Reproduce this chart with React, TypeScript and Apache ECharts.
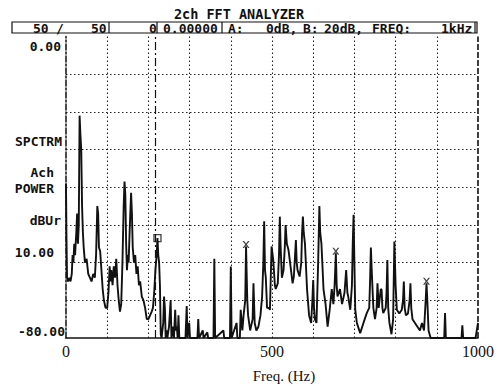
import React, { useEffect, useRef } from "react";
import * as echarts from "echarts";

// Spectrum trace (Hz, dBUr)
const freqHz = [
  0, 1, 2.5, 5, 8, 11, 14, 16, 18, 20, 22, 25, 27, 29, 31, 33, 35, 37, 39, 41, 43, 46, 50, 54, 58, 62, 66, 70, 73, 76, 78, 80, 83, 86, 89, 92, 96, 100,
  103, 106, 108, 110, 113, 116, 119, 122, 125, 128, 131, 134, 137, 140, 142, 144, 146, 148, 150, 152, 155, 158, 160, 162, 165, 168, 171, 174, 177, 180,
  184, 188, 192, 196, 200, 204, 208, 211, 214, 217, 220, 222, 224, 226, 228, 230, 232,
  236, 238, 240, 242, 244, 246, 250, 254, 256, 259, 262, 265, 267, 269, 271, 273, 275, 290, 293, 295, 299, 301, 319, 321, 323, 332, 334, 343, 345,
  358, 360, 362, 382, 384, 398, 400, 402, 414, 416, 422, 424, 428, 431, 435, 437, 440, 442, 447, 453, 455, 458, 462, 467, 472, 476, 479, 481, 483,
  485, 488, 492, 495, 499, 503, 507, 509, 514, 517, 519, 521, 524, 528, 531, 533, 536, 540, 545, 550, 553, 556, 558, 560, 562, 567, 571, 573, 575,
  577, 580, 585, 590, 595, 598, 600, 602, 604, 608, 612, 615, 617, 620, 625, 630, 635, 640, 645, 649, 652, 655, 657, 659, 665, 670, 676, 680, 683,
  685, 690, 694, 696, 698, 700, 702, 706, 714, 722, 730, 736, 738, 740, 742, 746, 750, 754, 756, 759, 761, 764, 766, 768, 770, 776, 778, 780, 782,
  785, 790, 794, 797, 800, 803, 809, 815, 818, 820, 822, 825, 830, 834, 836, 838, 841, 847, 853, 859, 864, 869, 873, 875, 877, 880, 885, 918, 920,
  922, 960, 962, 964, 994, 996, 1000,
];
const levelDb = [
  -39, -52, -64, -65, -64, -65, -63, -58, -60, -55, -58, -52, -47, -55, -50, -21, -26, -30, -45, -52, -56, -60, -59, -63, -64, -65, -63, -64, -58, -45, -47, -56, -57, -62, -67, -70, -72, -72,
  -68, -61, -65, -62, -66, -61, -64, -59, -66, -70, -73, -71, -60, -45, -38.5, -42, -55, -62, -58, -60, -50, -41.5, -47, -56, -60, -58, -63, -61, -66, -65,
  -69, -70, -72, -75, -75, -74, -73, -72, -68, -62, -58, -53.5, -58, -60, -66, -79, -80,
  -76, -69, -72, -80, -78, -80, -77, -70, -80, -77, -80, -72.5, -78, -77, -80, -74, -80, -80, -71.5, -80, -76, -80, -80, -75, -80, -78, -80, -78.5, -80,
  -80, -59, -80, -78, -80, -80, -61, -80, -76, -80, -80, -72.5, -78, -74, -70, -55.7, -70, -74, -78, -75, -65.5, -76, -78, -77, -74, -69, -60, -49, -62,
  -64, -72, -72, -72.5, -55.7, -59.3, -66, -67, -65.5, -58, -47.8, -56, -64, -62, -56, -50, -55, -56.6, -61, -65.5, -63.7, -58, -54, -60, -62, -63.7, -60, -52, -47.8,
  -52, -55, -67, -74, -76, -70, -64.6, -72, -75, -76, -60, -45, -52, -55, -67, -71, -77, -72.5, -67, -71, -66, -57.5, -66, -69, -67, -71, -68, -62, -68,
  -69, -72.5, -66, -55, -47.3, -60, -72.5, -76, -78.7, -76, -73.4, -72, -65, -56, -62, -72, -75, -72, -65.5, -72, -70, -67, -67.2, -72, -73.4, -72, -68, -59.3, -72,
  -76, -79, -75, -54.4, -66, -72.5, -73.5, -72.5, -70, -65, -72, -74, -73.5, -70, -65.5, -72, -75, -76, -77, -78, -76, -78, -70, -65.5, -70, -78, -80, -80, -73.4,
  -80, -80, -76.6, -80, -80, -78.7, -76,
];

// Cursor and peak markers
const cursorHz = 217;
const squareMarker = [[222, -53.5]];
const crossMarkers = [
  [437, -55.7],
  [655, -57.5],
  [875, -65.5],
];

const xTicks = [0, 500, 1000];
const yLabels = [
  { text: "0.00", y: 46, x: 61 },
  { text: "SPCTRM", y: 141, x: 62 },
  { text: "Ach", y: 172, x: 54 },
  { text: "POWER", y: 188, x: 54 },
  { text: "dBUr", y: 220, x: 61 },
  { text: "10.00", y: 252, x: 54 },
  { text: "-80.00", y: 331, x: 65 },
];
const headerItems = [
  { text: "50", x: 33 },
  { text: "/", x: 56 },
  { text: "50", x: 91 },
  { text: "0", x: 149 },
  { text: "0.00000", x: 163 },
  { text: "A:", x: 228 },
  { text: "0dB,", x: 266 },
  { text: "B:", x: 303 },
  { text: "20dB,", x: 324 },
  { text: "FREQ:", x: 372 },
  { text: "1kHz", x: 441 },
];
const headerSeparators = [109, 157, 222];

const MONO = "'DejaVu Sans Mono', monospace";
const SERIF = "'Liberation Serif', 'DejaVu Serif', serif";

export default function App() {
  const ref = useRef<HTMLDivElement>(null);
  useEffect(() => {
    if (!ref.current) return;
    const chart = echarts.init(ref.current, null, { renderer: "svg" });
    const trace = freqHz.map((f, i) => [f, levelDb[i]]);
    const crossPath = "path://M0,0H2.2L5,3.6L7.8,0H10L6.2,5L10,10H7.8L5,6.4L2.2,10H0L3.8,5Z";

    const graphics: any[] = [
      {
        type: "text",
        style: { text: "2ch FFT ANALYZER", x: 239, y: 14, align: "center", verticalAlign: "middle", font: `bold 13.5px ${MONO}`, fill: "#111" },
      },
      {
        type: "rect",
        shape: { x: 12, y: 22, width: 465, height: 11 },
        style: { fill: "none", stroke: "#111", lineWidth: 1.2 },
      },
      ...headerSeparators.map((x) => ({
        type: "line",
        shape: { x1: x, y1: 22, x2: x, y2: 33 },
        style: { stroke: "#111", lineWidth: 1.2 },
      })),
      {
        type: "line",
        shape: { x1: 475, y1: 22, x2: 475, y2: 33 },
        style: { stroke: "#111", lineWidth: 1.2 },
      },
      ...headerItems.map((h) => ({
        type: "text",
        style: { text: h.text, x: h.x, y: 28, align: "left", verticalAlign: "middle", font: `bold 13px ${MONO}`, fill: "#111" },
      })),
      ...yLabels.map((l) => ({
        type: "text",
        style: { text: l.text, x: l.x, y: l.y, align: "right", verticalAlign: "middle", font: `bold 13px ${MONO}`, fill: "#111" },
      })),
      {
        type: "text",
        style: { text: "Freq. (Hz)", x: 284, y: 376, align: "center", verticalAlign: "middle", font: `15px ${SERIF}`, fill: "#111" },
      },
    ];

    chart.setOption({
      animation: false,
      backgroundColor: "#fff",
      grid: { left: 66, right: 21, top: 36.5, bottom: 48 },
      xAxis: {
        type: "value",
        min: 0,
        max: 1000,
        interval: 100,
        axisLine: { show: true, onZero: false, lineStyle: { color: "#111", width: 1.5 } },
        axisTick: { show: false },
        axisLabel: {
          margin: 5,
          color: "#111",
          fontSize: 16,
          fontFamily: SERIF,
          formatter: (v: number) => (xTicks.includes(v) ? String(v) : ""),
        },
        splitLine: {
          show: true,
          showMinLine: false,
          showMaxLine: false,
          lineStyle: { color: "#222", width: 1.1, type: [1.5, 2.5] },
        },
      },
      yAxis: {
        type: "value",
        min: -80,
        max: 0,
        interval: 10,
        axisLine: { show: true, lineStyle: { color: "#111", width: 1.5, type: [6, 2, 2, 2] } },
        axisTick: { show: false },
        axisLabel: { show: false },
        splitLine: {
          show: true,
          showMinLine: false,
          showMaxLine: false,
          lineStyle: { color: "#222", width: 1.1, type: [1.5, 2.5] },
        },
      },
      graphic: graphics,
      series: [
        {
          type: "line",
          data: trace,
          showSymbol: false,
          symbol: "none",
          lineStyle: { color: "#111", width: 1.9 },
          markLine: {
            silent: true,
            symbol: "none",
            label: { show: false },
            data: [
              { xAxis: cursorHz, lineStyle: { color: "#111", width: 1.2, type: [8, 3, 2, 3] } },
              { xAxis: 1000, lineStyle: { color: "#111", width: 1.6, type: [6, 2] } },
            ],
          },
        },
        {
          type: "scatter",
          data: squareMarker,
          symbol: "rect",
          symbolSize: 7,
          itemStyle: { color: "rgba(0,0,0,0)", borderColor: "#111", borderWidth: 1.3 },
        },
        {
          type: "scatter",
          data: crossMarkers,
          symbol: crossPath,
          symbolSize: 7,
          symbolOffset: [0, -2],
          itemStyle: { color: "#111" },
        },
      ],
    });
    return () => chart.dispose();
  }, []);
  return (
    <div
      ref={ref}
      style={{ position: "fixed", left: 0, top: 0, width: 499, height: 386, background: "#fff" }}
    />
  );
}
